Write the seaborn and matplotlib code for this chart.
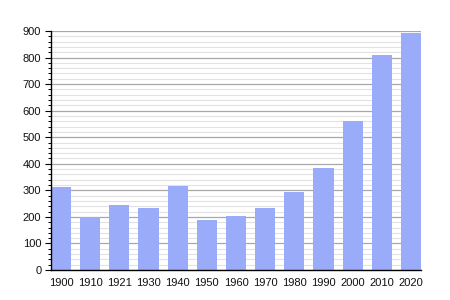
import matplotlib
matplotlib.use("Agg")
import matplotlib.pyplot as plt
import seaborn as sns
import pandas as pd
from matplotlib.ticker import MultipleLocator

years = ["1900", "1910", "1921", "1930", "1940", "1950", "1960",
         "1970", "1980", "1990", "2000", "2010", "2020"]
population = [313, 199, 246, 233, 317, 188, 205, 233, 295, 385, 561, 809, 893]

df = pd.DataFrame({"year": years, "population": population})

sns.set_style("white")
plt.rcParams["font.family"] = ["Liberation Sans", "DejaVu Sans"]

fig = plt.figure(figsize=(4.5, 3.0), dpi=100)
ax = fig.add_axes([51 / 450, 30 / 300, 370 / 450, 239 / 300])

sns.barplot(data=df, x="year", y="population", color="#9aabfa",
            saturation=1, width=0.69, linewidth=0, edgecolor="none",
            ax=ax, zorder=3)

ax.set_ylim(0, 900)
ax.set_xlim(-0.345, 12.345)
ax.yaxis.set_major_locator(MultipleLocator(100))
ax.yaxis.set_minor_locator(MultipleLocator(20))
ax.grid(axis="y", which="major", color="#a8a8a8", linewidth=0.9, zorder=1)
ax.grid(axis="y", which="minor", color="#e2e2e2", linewidth=0.8, zorder=0)
ax.set_axisbelow(True)

for s in ["top", "right"]:
    ax.spines[s].set_visible(False)
for s in ["left", "bottom"]:
    ax.spines[s].set_color("black")
    ax.spines[s].set_linewidth(1.0)
    ax.spines[s].set_zorder(5)

ax.tick_params(axis="y", which="major", left=True, length=4, width=0.8,
               color="black", labelsize=8, pad=3, labelcolor="#111111")
ax.tick_params(axis="y", which="minor", left=True, length=2.5, width=0.7,
               color="black")
ax.tick_params(axis="x", bottom=False, labelsize=8, pad=2, labelcolor="#111111")
ax.set_xlabel("")
ax.set_ylabel("")

fig.savefig("out.png", dpi=100)
